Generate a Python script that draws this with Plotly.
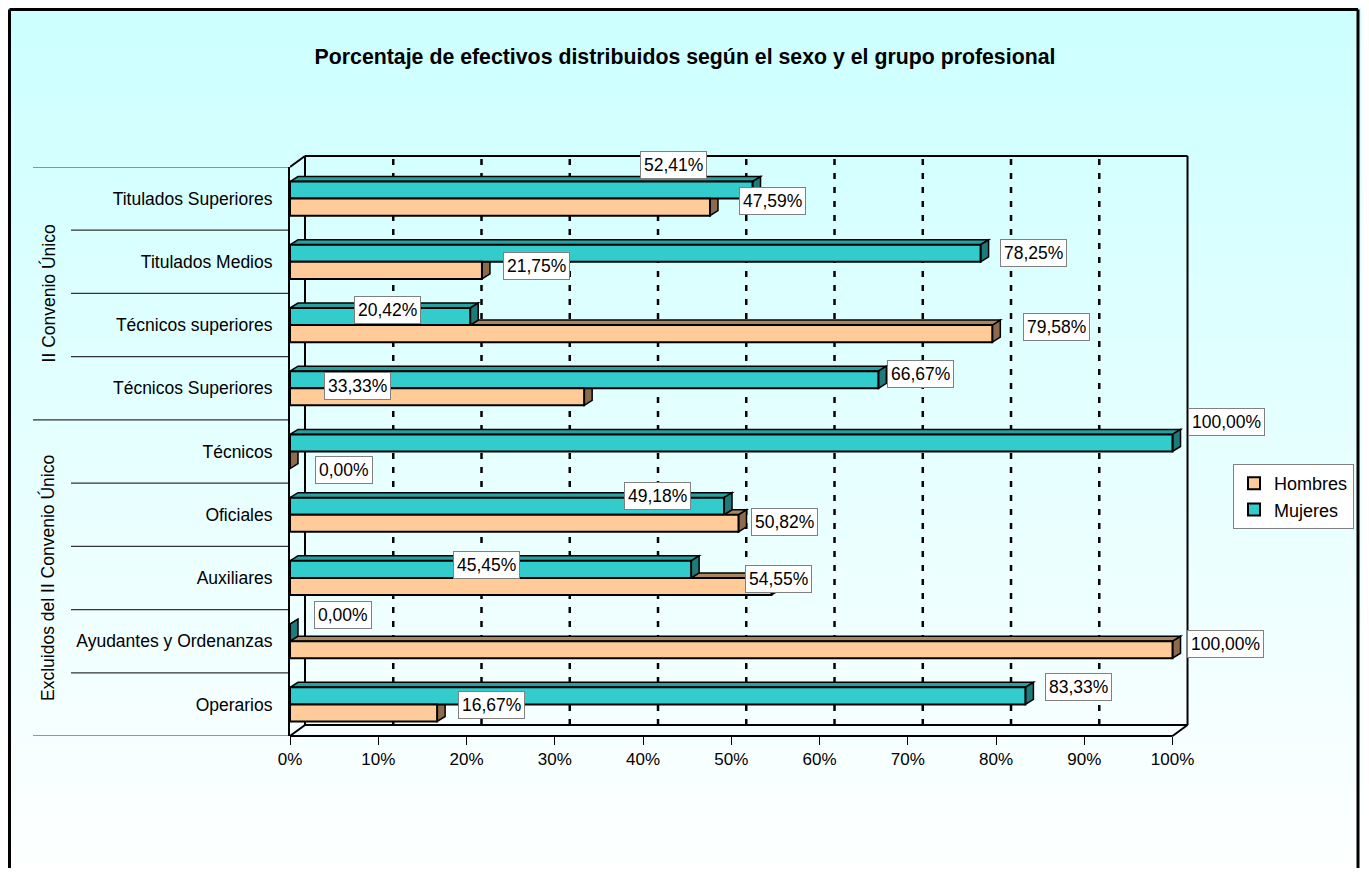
import plotly.graph_objects as go

# ---------------- data ----------------
categories = ["Titulados Superiores", "Titulados Medios", "Técnicos superiores",
              "Técnicos Superiores", "Técnicos", "Oficiales", "Auxiliares",
              "Ayudantes y Ordenanzas", "Operarios"]
hombres = [47.59, 21.75, 79.58, 33.33, 0.00, 50.82, 54.55, 100.00, 16.67]
mujeres = [52.41, 78.25, 20.42, 66.67, 100.00, 49.18, 45.45, 0.00, 83.33]
groups = ["II Convenio Único", "Excluidos del II Convenio Único"]
group_sizes = [4, 5]
x_tickvals = [0, 10, 20, 30, 40, 50, 60, 70, 80, 90, 100]
x_ticktext = ["0%", "10%", "20%", "30%", "40%", "50%", "60%", "70%", "80%", "90%", "100%"]
title = "Porcentaje de efectivos distribuidos según el sexo y el grupo profesional"

# label placement (layout only): (x in axis %, y offset from category index)
label_pos_m = [(43.5, -0.53), (84.3, -0.14), (11.1, -0.24), (71.4, -0.23), (106.1, -0.47),
               (41.6, -0.30), (22.3, -0.20), (6.0, -0.41), (89.3, -0.27)]
label_pos_h = [(54.7, 0.04), (27.9, 0.06), (86.9, 0.03), (7.6, -0.04), (6.1, 0.29),
               (56.0, 0.11), (55.3, 0.02), (106.0, 0.05), (22.8, 0.01)]

# ---------------- style ----------------
FONT = "Liberation Sans, Arial, sans-serif"
C_M, C_M_SIDE, C_M_TOP = "#33CCCC", "#1F7A7A", "#27A0A0"
C_H, C_H_SIDE, C_H_TOP = "#FFCC99", "#8B6B4C", "#A8865F"

W_FIG, H_FIG = 1353, 860
ML, MR, MT, MB = 282, 162, 159, 132
PW, PH = W_FIG - ML - MR, H_FIG - MT - MB
XMAX = 103.0
PX_PER_X = PW / XMAX
NCAT = len(categories)
BARGAP = 0.46
BW = (1 - BARGAP) / 2
DXW = 15 / PX_PER_X          # back-wall depth (x units)
DYW = 11 / PH                # back-wall depth (paper units)
DXB = 8 / PX_PER_X           # bar depth
DYB = 5 / (PH / NCAT)


def paper_x(X):
    return (X - ML) / PW


def paper_y(Y):
    return 1 - (Y - MT) / PH


ypos = list(range(NCAT))

fig = go.Figure()
fig.add_trace(go.Bar(name="Mujeres", y=ypos, x=mujeres, orientation="h",
                     marker=dict(color=C_M, line=dict(color="black", width=2)),
                     hoverinfo="x+name"))
fig.add_trace(go.Bar(name="Hombres", y=ypos, x=hombres, orientation="h",
                     marker=dict(color=C_H, line=dict(color="black", width=2)),
                     hoverinfo="x+name"))

shapes = []
# background gradient
N = 90
top_Y, bot_Y = 0, 885
for k in range(N):
    Y0 = top_Y + (bot_Y - top_Y) * k / N
    Y1 = top_Y + (bot_Y - top_Y) * (k + 1) / N + 1
    t = (k + 0.5) / N
    r = int(round(204 + 51 * t))
    shapes.append(dict(type="rect", xref="paper", yref="paper", layer="below",
                       x0=paper_x(0), x1=paper_x(W_FIG), y0=paper_y(Y1), y1=paper_y(Y0),
                       fillcolor=f"rgb({r},255,255)", line=dict(width=0)))
# outer border (left, top, right edges)
border = dict(color="black", width=3)
bx0, bx1, by0, by1 = paper_x(1.5), paper_x(W_FIG - 3), paper_y(H_FIG + 20), paper_y(1.5)
for (xa, ya, xb, yb) in [(bx0, by0, bx0, by1), (bx0, by1, bx1, by1), (bx1, by1, bx1, by0)]:
    shapes.append(dict(type="line", xref="paper", yref="paper", layer="below",
                       x0=xa, y0=ya, x1=xb, y1=yb, line=border))

# back wall (gridlines)
for v in x_tickvals[1:-1]:
    shapes.append(dict(type="line", xref="x", yref="paper", layer="below",
                       x0=v + DXW, x1=v + DXW, y0=DYW, y1=1 + DYW,
                       line=dict(color="black", width=2.5, dash="6px,8px")))
wall_line = dict(color="black", width=2)
x0v, x1v = x_tickvals[0], x_tickvals[-1]
for (xa, ya, xb, yb) in [
    (x0v + DXW, DYW, x0v + DXW, 1 + DYW),
    (x1v + DXW, DYW, x1v + DXW, 1 + DYW),
    (x0v + DXW, 1 + DYW, x1v + DXW, 1 + DYW),
    (x0v + DXW, DYW, x1v + DXW, DYW),
    (x0v, 1, x0v + DXW, 1 + DYW),
    (x0v, 0, x0v + DXW, DYW),
    (x1v, 0, x1v + DXW, DYW),
    (x0v, 0, x1v, 0),
]:
    shapes.append(dict(type="line", xref="x", yref="paper", layer="below",
                       x0=xa, y0=ya, x1=xb, y1=yb, line=wall_line))

# 3D faces of bars
face_line = dict(color="black", width=1.5)
for i, (h, m) in enumerate(zip(hombres, mujeres)):
    yt, yc, yb = i - BW, i, i + BW
    shapes.append(dict(type="path", xref="x", yref="y", layer="below",
                       path=f"M {h},{yc} L {h},{yb} L {h+DXB},{yb-DYB} L {h+DXB},{yc-DYB} Z",
                       fillcolor=C_H_SIDE, line=face_line))
    if h > m:
        shapes.append(dict(type="path", xref="x", yref="y", layer="below",
                           path=f"M {m},{yc} L {h},{yc} L {h+DXB},{yc-DYB} L {m+DXB},{yc-DYB} Z",
                           fillcolor=C_H_TOP, line=face_line))
    shapes.append(dict(type="path", xref="x", yref="y", layer="below",
                       path=f"M 0,{yt} L {m},{yt} L {m+DXB},{yt-DYB} L {DXB},{yt-DYB} Z",
                       fillcolor=C_M_TOP, line=face_line))
    shapes.append(dict(type="path", xref="x", yref="y", layer="below",
                       path=f"M {m},{yt} L {m},{yc} L {m+DXB},{yc-DYB} L {m+DXB},{yt-DYB} Z",
                       fillcolor=C_M_SIDE, line=face_line))

# category separators and group labels
sep_line = dict(color="#333333", width=1.2)
boundaries = [i - 0.5 for i in range(NCAT + 1)]
group_edges = [0]
for s in group_sizes:
    group_edges.append(group_edges[-1] + s)
for j, b in enumerate(boundaries):
    long = j in group_edges
    shapes.append(dict(type="line", xref="paper", yref="y", layer="below",
                       x0=paper_x(25 if long else 63), x1=0, y0=b, y1=b, line=sep_line))

annotations = []
for g, (a, b) in zip(groups, zip(group_edges[:-1], group_edges[1:])):
    annotations.append(dict(text=g, xref="paper", yref="y", x=paper_x(40), y=(a + b - 1) / 2,
                            xanchor="center", yanchor="middle",
                            textangle=-90, showarrow=False,
                            font=dict(family=FONT, size=17.5, color="black")))


def fmt(v):
    return f"{v:.2f}%".replace(".", ",")


def cat_to_paper(yv):
    return 1 - (yv + 0.5) / NCAT


for i in range(NCAT):
    for val, (lx, ly) in ((mujeres[i], label_pos_m[i]), (hombres[i], label_pos_h[i])):
        annotations.append(dict(text=fmt(val), xref="paper", yref="paper",
                                x=lx / XMAX, y=cat_to_paper(i + ly),
                                xanchor="center", yanchor="middle",
                                showarrow=False, bgcolor="white", bordercolor="#808080",
                                borderwidth=1, borderpad=3,
                                font=dict(family=FONT, size=17.5, color="black")))

fig.update_layout(
    width=W_FIG, height=H_FIG,
    margin=dict(l=ML, r=MR, t=MT, b=MB, pad=0, autoexpand=False),
    paper_bgcolor="white", plot_bgcolor="rgba(0,0,0,0)",
    barmode="group", bargap=BARGAP, bargroupgap=0,
    font=dict(family=FONT, size=17.5, color="black"),
    title=dict(text=f"<b>{title}</b>", x=677 / W_FIG, xref="container",
               y=1 - 49 / H_FIG, yref="container", xanchor="center", yanchor="middle",
               font=dict(family=FONT, size=21.3, color="black")),
    xaxis=dict(range=[0, XMAX], tickvals=x_tickvals, ticktext=x_ticktext,
               showgrid=False, zeroline=False, showline=False, automargin=False,
               ticks="outside", ticklen=8, tickcolor="black", tickwidth=1,
               tickfont=dict(family=FONT, size=17, color="black")),
    yaxis=dict(range=[NCAT - 0.5, -0.5], tickvals=ypos, ticktext=categories,
               showgrid=False, zeroline=False, showline=True, linecolor="black", linewidth=2,
               ticks="", ticklabelstandoff=12, automargin=False,
               tickfont=dict(family=FONT, size=17.5, color="black")),
    legend=dict(x=paper_x(1225), y=paper_y(456), xanchor="left", yanchor="top",
                xref="paper", yref="paper", traceorder="reversed",
                bgcolor="white", bordercolor="#808080", borderwidth=1,
                font=dict(family=FONT, size=18, color="black"),
                itemwidth=30, tracegroupgap=0),
    shapes=shapes,
    annotations=annotations,
    showlegend=True,
)

fig.write_html("out.html")
